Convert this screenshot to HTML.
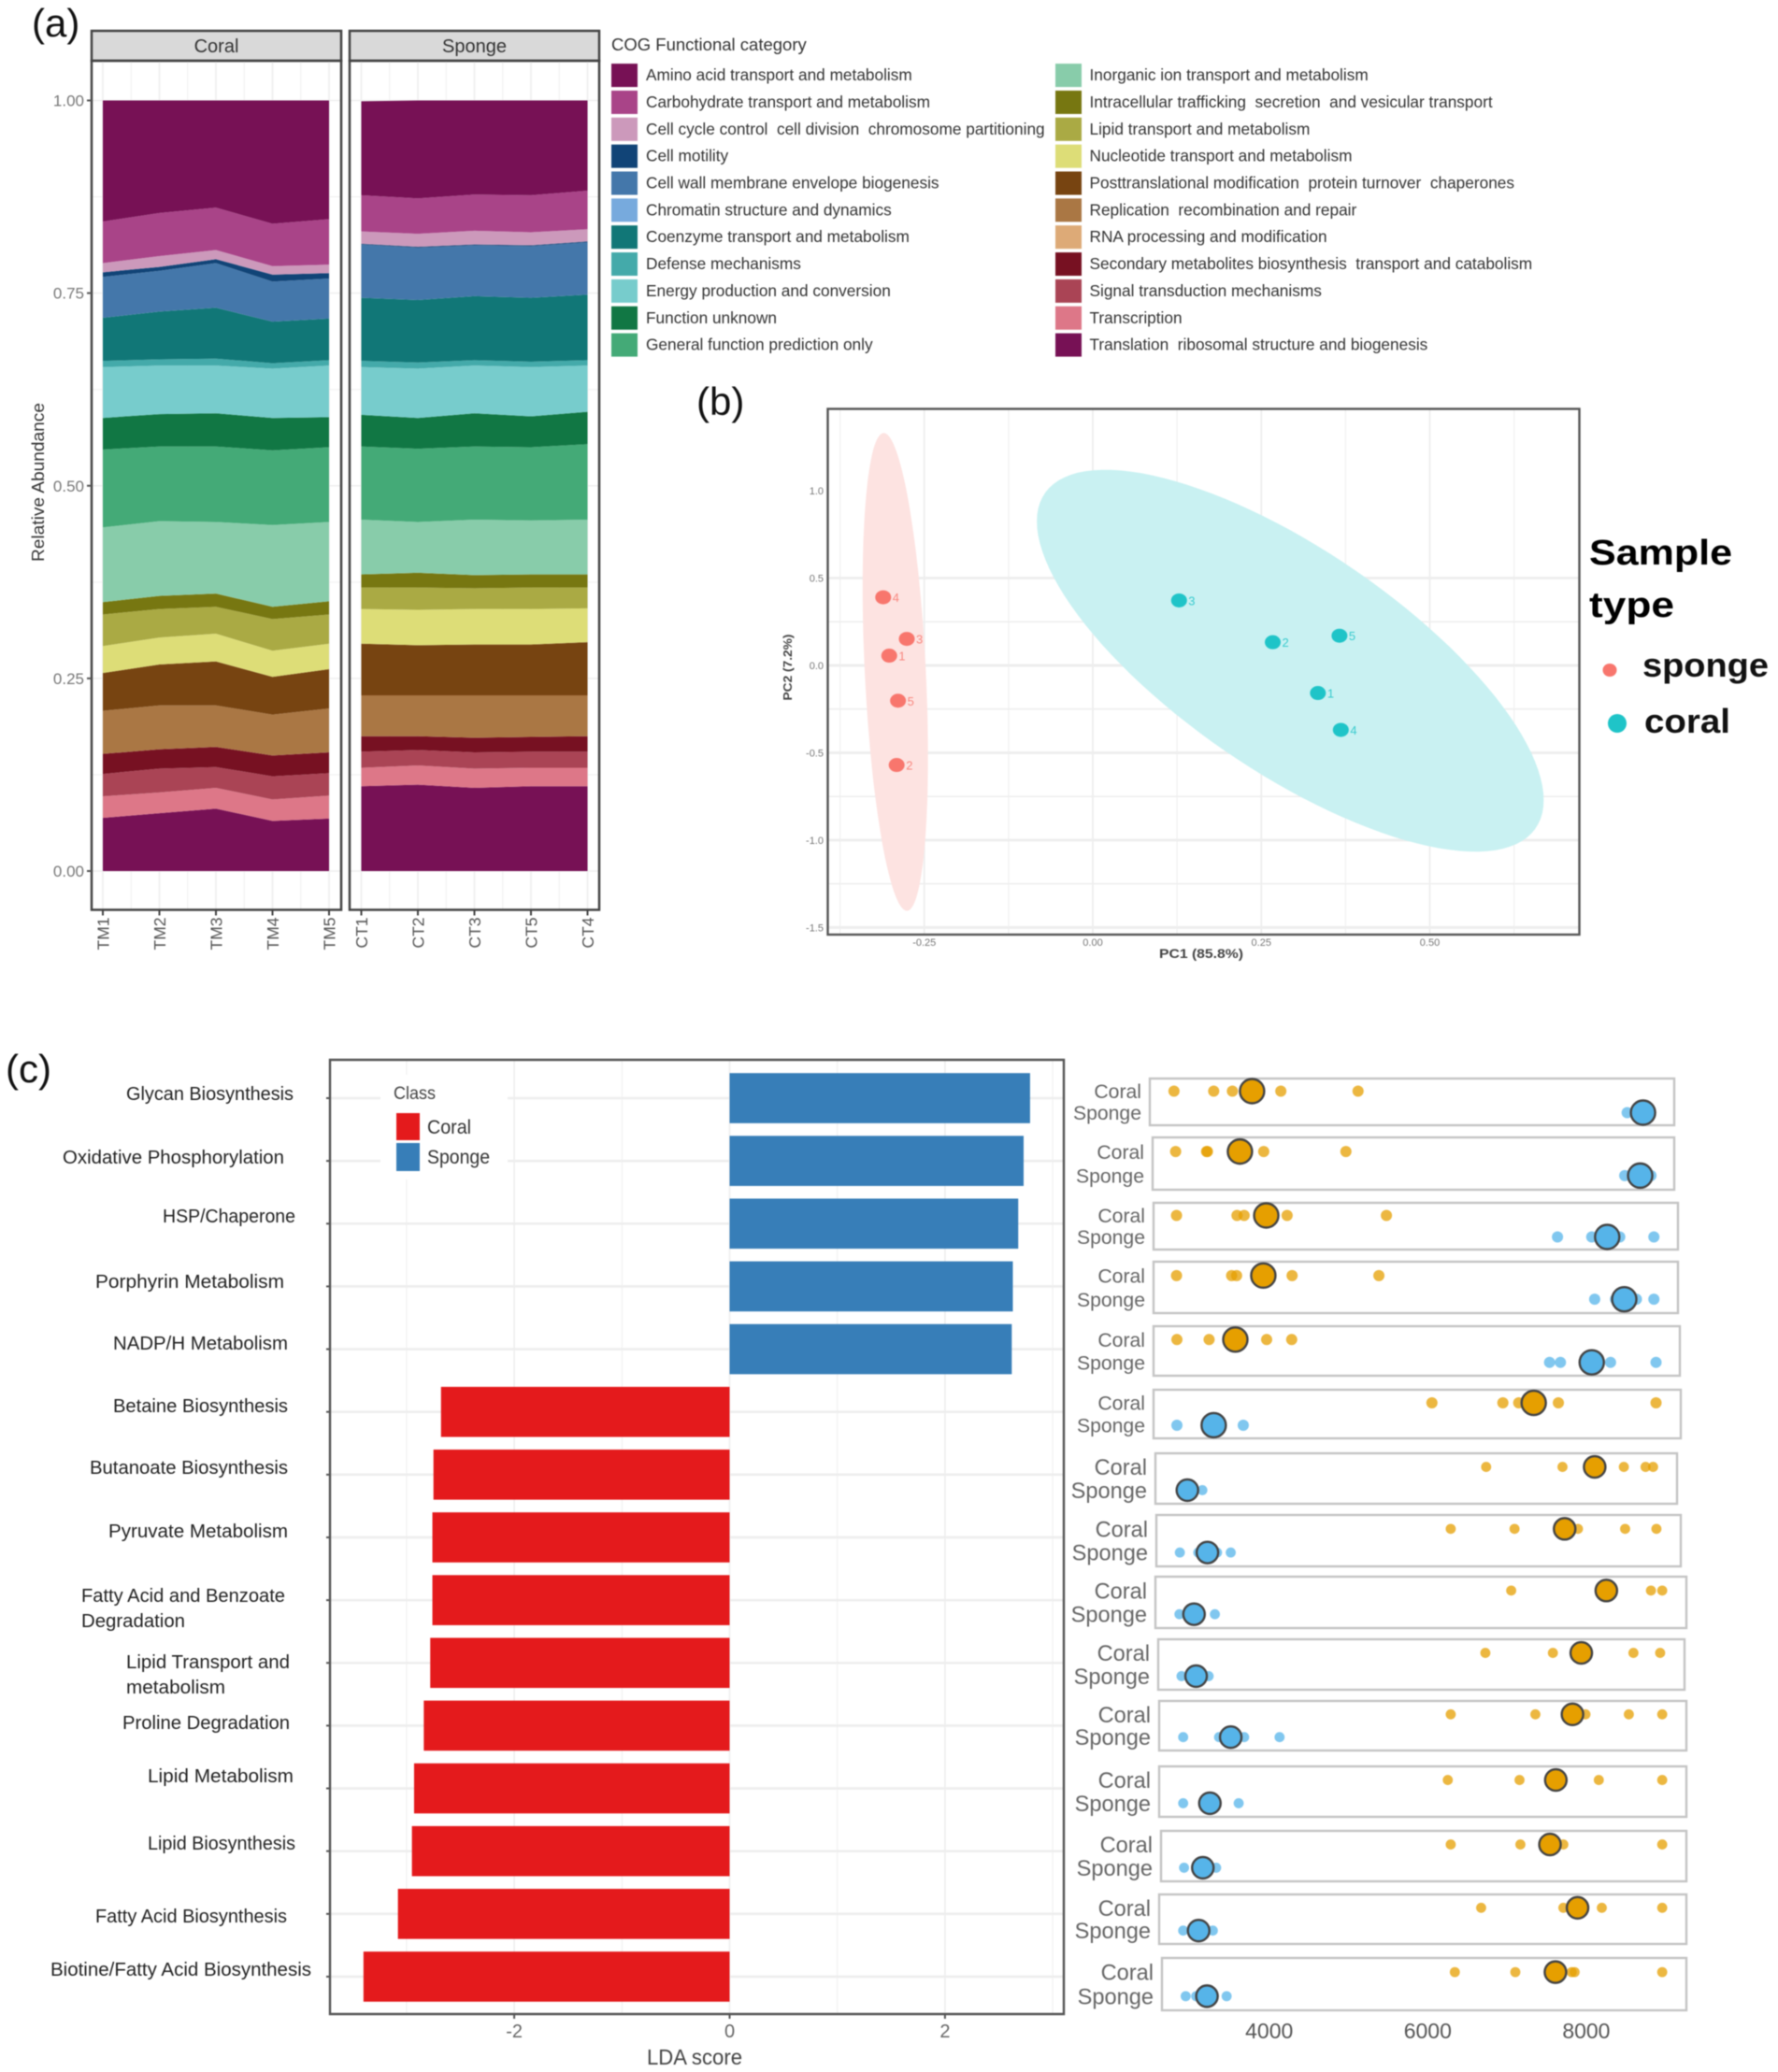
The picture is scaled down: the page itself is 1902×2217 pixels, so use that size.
<!DOCTYPE html>
<html lang="en">
<head>
<meta charset="utf-8">
<title>COG categories, PCA and LDA composite figure</title>
<style>
html,body{margin:0;padding:0;background:#fff;width:1902px;height:2217px;overflow:hidden}
svg{display:block;filter:blur(.6px)}
text{font-family:"Liberation Sans",Arial,sans-serif;white-space:pre}
</style>
</head>
<body>
<svg id="figure" xmlns="http://www.w3.org/2000/svg" width="1902" height="2217" viewBox="0 0 1902 2217">
  <rect width="1902" height="2217" fill="#fff"/>
  <text x="34" y="39" font-size="42" fill="#111">(a)</text>
  <text x="745" y="444" font-size="42" fill="#111">(b)</text>
  <text x="6" y="1158" font-size="42" fill="#111">(c)</text>
  <g id="panelA"></g>
  <g id="panelB"></g>
  <g id="panelC"></g>
  <g id="panelD"></g>
  <g font-size="20" fill="#222">
    <text x="135" y="1177" textLength="179" lengthAdjust="spacingAndGlyphs">Glycan Biosynthesis</text>
    <text x="67" y="1245" textLength="237" lengthAdjust="spacingAndGlyphs">Oxidative Phosphorylation</text>
    <text x="174" y="1308" textLength="142" lengthAdjust="spacingAndGlyphs">HSP/Chaperone</text>
    <text x="102" y="1378" textLength="202" lengthAdjust="spacingAndGlyphs">Porphyrin Metabolism</text>
    <text x="121" y="1444" textLength="187" lengthAdjust="spacingAndGlyphs">NADP/H Metabolism</text>
    <text x="121" y="1511" textLength="187" lengthAdjust="spacingAndGlyphs">Betaine Biosynthesis</text>
    <text x="96" y="1577" textLength="212" lengthAdjust="spacingAndGlyphs">Butanoate Biosynthesis</text>
    <text x="116" y="1645" textLength="192" lengthAdjust="spacingAndGlyphs">Pyruvate Metabolism</text>
    <text x="87" y="1714" textLength="218" lengthAdjust="spacingAndGlyphs">Fatty Acid and Benzoate</text>
    <text x="87" y="1741" textLength="111" lengthAdjust="spacingAndGlyphs">Degradation</text>
    <text x="135" y="1785" textLength="175" lengthAdjust="spacingAndGlyphs">Lipid Transport and</text>
    <text x="135" y="1812" textLength="106" lengthAdjust="spacingAndGlyphs">metabolism</text>
    <text x="131" y="1850" textLength="179" lengthAdjust="spacingAndGlyphs">Proline Degradation</text>
    <text x="158" y="1907" textLength="156" lengthAdjust="spacingAndGlyphs">Lipid Metabolism</text>
    <text x="158" y="1979" textLength="158" lengthAdjust="spacingAndGlyphs">Lipid Biosynthesis</text>
    <text x="102" y="2057" textLength="205" lengthAdjust="spacingAndGlyphs">Fatty Acid Biosynthesis</text>
    <text x="54" y="2114" textLength="279" lengthAdjust="spacingAndGlyphs">Biotine/Fatty Acid Biosynthesis</text>
  </g>
</svg>
<script>
/* ---------- panel (a) data: relative abundance per sample, legend order ---------- */
const cogCategories = ["Amino acid transport and metabolism","Carbohydrate transport and metabolism","Cell cycle control  cell division  chromosome partitioning","Cell motility","Cell wall membrane envelope biogenesis","Chromatin structure and dynamics","Coenzyme transport and metabolism","Defense mechanisms","Energy production and conversion","Function unknown","General function prediction only","Inorganic ion transport and metabolism","Intracellular trafficking  secretion  and vesicular transport","Lipid transport and metabolism","Nucleotide transport and metabolism","Posttranslational modification  protein turnover  chaperones","Replication  recombination and repair","RNA processing and modification","Secondary metabolites biosynthesis  transport and catabolism","Signal transduction mechanisms","Transcription","Translation  ribosomal structure and biogenesis"];
const cogColors = ["#771155","#a94488","#cc99bb","#114477","#4477aa","#77aadd","#117777","#44aaaa","#77cccc","#117744","#44aa77","#88ccaa","#777711","#aaaa44","#dddd77","#774411","#aa7744","#ddaa77","#771122","#aa4455","#dd7788","#771155"];
const coralSamples = ["TM1","TM2","TM3","TM4","TM5"];
const spongeSamples = ["CT1","CT2","CT3","CT5","CT4"];
const abundanceTicks = ["0.00","0.25","0.50","0.75","1.00"];
const coralValues = [
 [.157,.146,.139,.160,.154],[.054,.056,.055,.055,.059],[.012,.014,.012,.011,.011],[.006,.005,.005,.009,.007],
 [.053,.053,.058,.052,.052],[0,0,0,0,0],[.056,.062,.066,.054,.054],[.008,.008,.009,.007,.007],
 [.066,.063,.062,.064,.067],[.041,.042,.043,.042,.039],[.101,.097,.098,.097,.097],[.097,.097,.093,.106,.103],
 [.016,.017,.017,.016,.017],[.041,.037,.035,.041,.038],[.035,.035,.036,.034,.033],[.049,.053,.057,.049,.051],
 [.056,.057,.054,.053,.057],[0,0,0,0,0],[.026,.025,.026,.027,.027],[.029,.031,.027,.030,.029],
 [.028,.027,.027,.028,.030],[.069,.075,.081,.065,.068]];
const spongeValues = [
 [.122,.127,.122,.123,.117],[.047,.046,.047,.048,.050],[.016,.017,.018,.017,.016],[.001,.001,.001,.001,.001],
 [.069,.068,.066,.067,.068],[0,0,0,0,0],[.082,.081,.083,.083,.085],[.008,.008,.007,.007,.007],
 [.062,.064,.062,.064,.060],[.041,.040,.043,.040,.042],[.095,.095,.095,.095,.098],[.071,.066,.072,.070,.071],
 [.017,.019,.017,.017,.017],[.028,.029,.027,.028,.027],[.045,.046,.046,.046,.044],[.067,.065,.066,.066,.069],
 [.053,.053,.055,.054,.053],[0,0,0,0,0],[.020,.018,.019,.019,.020],[.021,.020,.021,.021,.021],
 [.024,.025,.025,.024,.024],[.110,.112,.108,.110,.110]];

/* ---------- panel (b) data ---------- */
const pcaXTicks = [-0.25,0,0.25,0.5];
const pcaYTicks = [-1.5,-1,-0.5,0,0.5,1];
const spongeIds = ["1","2","3","4","5"];
const spongePc1 = [-0.302,-0.291,-0.276,-0.311,-0.289];
const spongePc2 = [0.056,-0.570,0.152,0.390,-0.202];
const coralIds = ["1","2","3","4","5"];
const coralPc1 = [0.334,0.267,0.128,0.368,0.366];
const coralPc2 = [-0.158,0.133,0.372,-0.369,0.170];
/* ellipse: mean x, mean y, sd x, sd y, correlation */
const spongeEllipse = [-0.293,-0.037,0.0485,1.368,-0.354];
const coralEllipse = [0.293,0.027,0.376,1.093,-0.73];

/* ---------- panel (c) data ---------- */
const ldaCategories = ["Glycan Biosynthesis","Oxidative Phosphorylation","HSP/Chaperone","Porphyrin Metabolism","NADP/H Metabolism","Betaine Biosynthesis","Butanoate Biosynthesis","Pyruvate Metabolism","Fatty Acid and Benzoate Degradation","Lipid Transport and metabolism","Proline Degradation","Lipid Metabolism","Lipid Biosynthesis","Fatty Acid Biosynthesis","Biotine/Fatty Acid Biosynthesis"];
const ldaScores = [2.79,2.73,2.68,2.63,2.62,-2.68,-2.75,-2.76,-2.76,-2.78,-2.84,-2.93,-2.95,-3.08,-3.40];
const ldaTicks = [-2,0,2];
const abundanceAxisTicks = [4000,6000,8000];
const rowCoralValues = [
 [2799,3300,3536,4147,5121],[2820,3210,3221,3931,4968],[2831,3594,3684,4226,5479],[2831,3526,3589,4289,5384],[2836,3242,3573,3968,4284],
 [6053,6948,7148,7648,8880],[6737,7700,8474,8748,8843],[6290,7095,7895,8490,8885],[7053,8253,8253,8816,8958],[6727,7579,7937,8595,8932],
 [6290,7358,7990,8537,8958],[6253,7158,7616,8158,8958],[6290,7169,7542,7711,8958],[6674,7711,7890,8196,8958],[6342,7105,7816,7853,8958]];
const rowSpongeValues = [
 [8516,8700,8716,8730,8750],[8485,8650,8680,8700,8816],[7637,8069,8264,8422,8853],[8106,8369,8479,8632,8853],[7537,7674,8069,8306,8880],
 [2836,3250,3300,3350,3673],[2900,2950,2968,3000,3157],[2873,3105,3221,3342,3515],[2868,3000,3052,3100,3315],[2894,3000,3078,3130,3236],
 [2915,3368,3515,3684,4131],[2915,3200,3252,3300,3615],[2926,3100,3163,3220,3331],[2915,3050,3110,3170,3289],[2947,3079,3215,3300,3463]];
const rowCoralMeans = [3784,3631,3963,3926,3573,7337,8106,7727,8253,7937,7826,7616,7542,7890,7611];
const rowSpongeMeans = [8716,8680,8264,8479,8069,3300,2968,3221,3052,3078,3515,3252,3163,3110,3215];

/* ---------- layout only: frame of each pasted row [left, top, right, bottom] ---------- */
const rowFrames = [[1230,1154,1791,1204],[1233,1217,1791,1273],[1234,1287,1795,1337],[1234,1350,1795,1405],[1234,1419,1797,1472],[1234,1487,1798,1539],[1236,1555,1794,1609],[1237,1621,1798,1676],[1236,1687,1804,1742],[1239,1754,1802,1808],[1240,1820,1804,1873],[1240,1890,1804,1944],[1242,1959,1804,2013],[1240,2027,1804,2080],[1243,2095,1804,2151]];

const NS = "http://www.w3.org/2000/svg";
function mk(parent, tag, attrs, txt){
  const e = document.createElementNS(NS, tag);
  for (const k in attrs) e.setAttribute(k, attrs[k]);
  if (txt !== undefined) e.textContent = txt;
  parent.appendChild(e);
  return e;
}
function slug(s){ return s.toLowerCase().replace(/[^a-z0-9]+/g,'-').replace(/^-|-$/g,''); }

/* ========== Panel A ========== */
const gA = document.getElementById('panelA');
const abundY = v => 932 - 824.5*v;
const facetBottom = 973.5;
function facet(name, title, samples, values, left, right, x0){
  const g = mk(gA,'g',{});
  
  
  const sx = i => x0 + 60.5*i;
  const strip = mk(g,'rect',{x:left,y:33,width:right-left,height:32,fill:'#d9d9d9',stroke:'#444','stroke-width':2.5});
  
  
  const stripText = mk(g,'text',{x:(left+right)/2,y:56,'font-size':20,'text-anchor':'middle',fill:'#333'},title);
  
  
  for (let t=0;t<=8;t++){
    const gl = mk(g,'line',{x1:left,x2:right,y1:abundY(t*0.125),y2:abundY(t*0.125),stroke:'#efefef','stroke-width':t%2?1:1.6});
    
    
  }
  for (let t=0;t<=8;t++){
    const gx = x0 + 30.25*t;
    const gl = mk(g,'line',{x1:gx,x2:gx,y1:65,y2:facetBottom,stroke:'#efefef','stroke-width':t%2?1:1.6});
    
    
  }
  /* stack from the last category upward */
  const base = samples.map(()=>0);
  for (let c=values.length-1;c>=0;c--){
    const low = base.slice();
    values[c].forEach((v,i)=>{ base[i]+=v; });
    let d = '';
    base.forEach((v,i)=>{ d += (i?'L':'M')+sx(i)+' '+abundY(v); });
    for (let i=samples.length-1;i>=0;i--) d += 'L'+sx(i)+' '+abundY(low[i]);
    const a = mk(g,'path',{d:d+'Z',fill:cogColors[c]});
    
    
  }
  const frame = mk(g,'rect',{x:left,y:65,width:right-left,height:facetBottom-65,fill:'none',stroke:'#444','stroke-width':2.5});
  
  
  samples.forEach((s,i)=>{
    const tk = mk(g,'line',{x1:sx(i),x2:sx(i),y1:facetBottom,y2:facetBottom+6,stroke:'#444','stroke-width':2});
    
    
    const tl = mk(g,'text',{transform:'translate('+(sx(i)+6.5)+','+(facetBottom+8)+') rotate(-90)','font-size':17.5,'text-anchor':'end',fill:'#555'},s);
    
    
  });
}
facet('coral','Coral',coralSamples,coralValues,98,365,110);
facet('sponge','Sponge',spongeSamples,spongeValues,374,641,386.5);
abundanceTicks.forEach(t=>{
  const y = abundY(parseFloat(t));
  const tk = mk(gA,'line',{x1:93,x2:98,y1:y,y2:y,stroke:'#555','stroke-width':2});
  
  
  const tl = mk(gA,'text',{x:90,y:y+6,'font-size':17,'text-anchor':'end',fill:'#777'},t);
  
  
});
const yTitle = mk(gA,'text',{transform:'translate(47,516) rotate(-90)','font-size':18,'text-anchor':'middle',fill:'#333',textLength:170,lengthAdjust:'spacingAndGlyphs'},'Relative Abundance');


const legTitle = mk(gA,'text',{x:654,y:54,'font-size':18.5,fill:'#333'},'COG Functional category');


cogCategories.forEach((c,i)=>{
  const col = i<11?0:1, row = i%11;
  const cy = 80.6 + 28.85*row;
  const kx = col?1129:654, tx = col?1165.5:691;
  const g = mk(gA,'g',{});
  
  
  const k = mk(g,'rect',{x:kx,y:cy-12.5,width:28,height:25,fill:cogColors[i]});
  
  
  const t = mk(g,'text',{x:tx,y:cy+5.5,'font-size':17.25,fill:'#333'},c);
  
  
});

/* ========== Panel B ========== */
const gB = document.getElementById('panelB');
const pcaX = v => 1169 + 721*v;
const pcaY = v => 712 - 186.9*v;
const PL=885.5, PR=1689.5, PT=437.5, PB=1000;
for (let k=-3;k<=5;k++){
  const x = pcaX(k*0.125);
  const l = mk(gB,'line',{x1:x,x2:x,y1:PT,y2:PB,stroke:'#eee','stroke-width':k%2?1:1.8});
  
  
}
for (let k=-6;k<=2;k++){
  const y = pcaY(k*0.25);
  const major = k%2===0;
  const l = mk(gB,'line',{x1:PL,x2:PR,y1:y,y2:y,stroke:'#eee','stroke-width':major?3:1.6});
  
  
}
function drawEllipse(p, fill, name){
  const phi = Math.acos(p[4]);
  let d = '';
  for (let a=0;a<=120;a++){
    const t = a/120*2*Math.PI;
    d += (a?'L':'M')+pcaX(p[0]+p[2]*Math.cos(t)).toFixed(1)+' '+pcaY(p[1]+p[3]*Math.cos(t+phi)).toFixed(1);
  }
  const e = mk(gB,'path',{d:d+'Z',fill:fill});
  
  
}
drawEllipse(spongeEllipse,'#fde3e1','sponge-confidence-ellipse');
drawEllipse(coralEllipse,'#c9f1f2','coral-confidence-ellipse');
function drawPoints(ids,xs,ys,color,name){
  ids.forEach((id,i)=>{
    const cx = pcaX(xs[i]), cy = pcaY(ys[i]);
    const p = mk(gB,'ellipse',{cx:cx,cy:cy,rx:8.5,ry:7.5,fill:color});
    
    
    const l = mk(gB,'text',{x:cx+10,y:cy+5,'font-size':13,fill:color,opacity:.85},id);
    
    
  });
}
drawPoints(spongeIds,spongePc1,spongePc2,'#f8766d','sponge');
drawPoints(coralIds,coralPc1,coralPc2,'#1fc4c8','coral');
const pFrame = mk(gB,'rect',{x:PL,y:PT,width:PR-PL,height:PB-PT,fill:'none',stroke:'#555','stroke-width':2.4});


pcaXTicks.forEach(t=>{
  const tl = mk(gB,'text',{x:pcaX(t),y:1012,'font-size':11,'text-anchor':'middle',fill:'#777'},t.toFixed(2));
  
  
});
pcaYTicks.forEach(t=>{
  const tl = mk(gB,'text',{x:881,y:pcaY(t)+4,'font-size':11,'text-anchor':'end',fill:'#777'},t.toFixed(1));
  
  
});
const pc1 = mk(gB,'text',{x:1285,y:1025,'font-size':14,'text-anchor':'middle',fill:'#444','font-weight':'bold',textLength:90,lengthAdjust:'spacingAndGlyphs'},'PC1 (85.8%)');


const pc2 = mk(gB,'text',{transform:'translate(847,714) rotate(-90)','font-size':13,'text-anchor':'middle',fill:'#444','font-weight':'bold',textLength:71,lengthAdjust:'spacingAndGlyphs'},'PC2 (7.2%)');


const st1 = mk(gB,'text',{x:1700,y:604,'font-size':38,'font-weight':'bold',fill:'#000',textLength:153,lengthAdjust:'spacingAndGlyphs'},'Sample');


const st2 = mk(gB,'text',{x:1700,y:660,'font-size':38,'font-weight':'bold',fill:'#000',textLength:91,lengthAdjust:'spacingAndGlyphs'},'type');


const ld1 = mk(gB,'ellipse',{cx:1722,cy:717,rx:7.5,ry:7,fill:'#f8766d'});


const ll1 = mk(gB,'text',{x:1757,y:724,'font-size':36,'font-weight':'bold',fill:'#111',textLength:135,lengthAdjust:'spacingAndGlyphs'},'sponge');


const ld2 = mk(gB,'ellipse',{cx:1730,cy:774,rx:10,ry:10,fill:'#1fc4c8'});


const ll2 = mk(gB,'text',{x:1759,y:784,'font-size':36,'font-weight':'bold',fill:'#111',textLength:92,lengthAdjust:'spacingAndGlyphs'},'coral');



/* ========== Panel C: LDA bars ========== */
const gC = document.getElementById('panelC');
const ldaX = v => 780.5 + 115.2*v;
const ldaY = i => 1175 + 67.14*i;
const CL=353, CR=1138, CT=1134, CB=2155;
[-3,-2,-1,0,1,2,3].forEach(v=>{
  const l = mk(gC,'line',{x1:ldaX(v),x2:ldaX(v),y1:CT,y2:CB,stroke:'#eee','stroke-width':v%2?1:1.6});
  
  
});
ldaCategories.forEach((c,i)=>{
  const l = mk(gC,'line',{x1:CL,x2:CR,y1:ldaY(i),y2:ldaY(i),stroke:'#eee','stroke-width':2.6});
  
  
  const tk = mk(gC,'line',{x1:CL-4,x2:CL,y1:ldaY(i),y2:ldaY(i),stroke:'#555','stroke-width':2});
  
  
});
const legBg = mk(gC,'rect',{x:407,y:1150,width:136,height:112,fill:'#fff'});


ldaCategories.forEach((c,i)=>{
  const v = ldaScores[i];
  const x = Math.min(ldaX(0),ldaX(v)), w = Math.abs(ldaX(v)-ldaX(0));
  const b = mk(gC,'rect',{x:x,y:ldaY(i)-26.8,width:w,height:53.6,fill:v>0?'#377eb8':'#e41a1c'});
  
  
});
const cFrameTop = mk(gC,'path',{d:'M'+CL+' '+CB+'V'+CT+'H'+CR+'V'+CB+'Z',fill:'none',stroke:'#555','stroke-width':2.4});


ldaTicks.forEach(t=>{
  const tk = mk(gC,'line',{x1:ldaX(t),x2:ldaX(t),y1:CB,y2:CB+5,stroke:'#555','stroke-width':2});
  
  
  const tl = mk(gC,'text',{x:ldaX(t),y:2180,'font-size':20,'text-anchor':'middle',fill:'#666'},String(t));
  
  
});
const ldaT = mk(gC,'text',{x:743,y:2209,'font-size':23,'text-anchor':'middle',fill:'#444',textLength:102,lengthAdjust:'spacingAndGlyphs'},'LDA score');


const clsT = mk(gC,'text',{x:421,y:1176,'font-size':19,fill:'#444',textLength:45,lengthAdjust:'spacingAndGlyphs'},'Class');


const k1 = mk(gC,'rect',{x:424,y:1191,width:25,height:29,fill:'#e41a1c'});


const k2 = mk(gC,'rect',{x:424,y:1223,width:25,height:30,fill:'#377eb8'});


const t1 = mk(gC,'text',{x:457,y:1213,'font-size':21,fill:'#333',textLength:47,lengthAdjust:'spacingAndGlyphs'},'Coral');


const t2 = mk(gC,'text',{x:457,y:1245,'font-size':21,fill:'#333',textLength:67,lengthAdjust:'spacingAndGlyphs'},'Sponge');



/* ========== Panel C: abundance dot rows ========== */
const gD = document.getElementById('panelD');
const abundX = v => 1357.7 + (v-4000)*0.0848;
rowFrames.forEach((f,i)=>{
  const g = mk(gD,'g',{});
  
  
  const h = f[3]-f[1];
  const yc = f[1]+.27*h, ys = f[1]+.73*h;
  const fs = i<6?21.2:23.6;
  const box = mk(g,'rect',{x:f[0],y:f[1],width:f[2]-f[0],height:h,fill:'#fff',stroke:'#c4c4c4','stroke-width':2.4});
  
  
  const lc = mk(g,'text',{x:f[0]-9,y:yc+fs*.36,'font-size':fs,'text-anchor':'end',fill:'#666'},'Coral');
  
  
  const ls = mk(g,'text',{x:f[0]-9,y:ys+fs*.36,'font-size':fs,'text-anchor':'end',fill:'#666'},'Sponge');
  
  
  const small = i<6?6:5.4, big = i<6?13:11.5;
  rowCoralValues[i].forEach(v=>{
    const d = mk(g,'circle',{cx:abundX(v),cy:yc,r:small,fill:'#e69f00','fill-opacity':.75});
    
    
  });
  rowSpongeValues[i].forEach(v=>{
    const d = mk(g,'circle',{cx:abundX(v),cy:ys,r:small,fill:'#56b4e9','fill-opacity':.75});
    
    
  });
  const mc = mk(g,'circle',{cx:abundX(rowCoralMeans[i]),cy:yc,r:big,fill:'#e69f00',stroke:'#444','stroke-width':2.4});
  
  
  const ms = mk(g,'circle',{cx:abundX(rowSpongeMeans[i]),cy:ys,r:big,fill:'#56b4e9',stroke:'#444','stroke-width':2.4});
  
  
});
abundanceAxisTicks.forEach(t=>{
  const tl = mk(gD,'text',{x:abundX(t),y:2181,'font-size':23,'text-anchor':'middle',fill:'#555'},String(t));
  
  
});
</script>
</body>
</html>
